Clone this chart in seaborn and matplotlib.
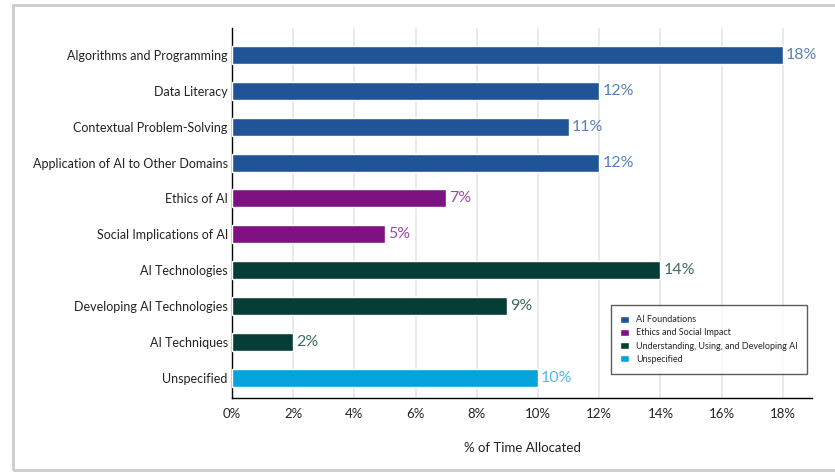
import numpy as np
import pandas as pd
import matplotlib.pyplot as plt
import seaborn as sns
from matplotlib.patches import Rectangle

topics = ['Algorithms and Programming', 'Data Literacy', 'Contextual Problem-Solving',
          'Application of AI to Other Domains', 'Ethics of AI', 'Social Implications of AI',
          'AI Technologies', 'Developing AI Technologies', 'AI Techniques', 'Unspecified']
pct = [18, 12, 11, 12, 7, 5, 14, 9, 2, 10]
groups = ['AI Foundations'] * 4 + ['Ethics and Social Impact'] * 2 + \
         ['Understanding, Using, and Developing AI'] * 3 + ['Unspecified']
group_names = ['AI Foundations', 'Ethics and Social Impact',
               'Understanding, Using, and Developing AI', 'Unspecified']
group_colors = ['#1f5597', '#7e1283', '#063d36', '#06a2dc']
label_colors = ['#5a80b8', '#9a4aa0', '#3f6a63', '#4dbbe6']

df = pd.DataFrame({'topic': topics, 'pct': pct, 'group': groups})

sns.set_style('white')
plt.rcParams['font.family'] = ['Lato', 'DejaVu Sans']

fig = plt.figure(figsize=(8.35, 4.72), dpi=100)
ax = fig.add_axes([232 / 835, 1 - 398 / 472, (812 - 232) / 835, (398 - 28) / 472])

sns.barplot(data=df, x='pct', y='topic', hue='group', hue_order=group_names,
            palette=dict(zip(group_names, group_colors)), dodge=False, saturation=1,
            width=0.5, ax=ax, zorder=3)

# value labels
cmap = dict(zip(group_names, label_colors))
for i, (v, g) in enumerate(zip(pct, groups)):
    ax.text(v + 0.1, i, f'{v}%', va='center', ha='left', fontsize=11.5, color=cmap[g])

ax.set_xlim(0, 18.95)
ax.set_ylim(9.56, -0.75)
ax.set_xticks(np.arange(0, 19, 2))
ax.set_xticklabels([f'{t}%' for t in range(0, 19, 2)], fontsize=9.5, color='#222222')
ax.tick_params(axis='y', labelsize=9, labelcolor='#222222', length=0, pad=3)
ax.tick_params(axis='x', length=0, pad=7)
ax.set_ylabel('')
ax.set_xlabel('% of Time Allocated', fontsize=9.5, color='#222222', labelpad=16)
ax.xaxis.grid(True, color='#e6e6e6', linewidth=1.2, zorder=0)
for s in ['top', 'right']:
    ax.spines[s].set_visible(False)
ax.spines['left'].set_color('black')
ax.spines['bottom'].set_color('black')
ax.spines['left'].set_linewidth(1)
ax.spines['bottom'].set_linewidth(1)

leg = ax.legend(loc='lower right', bbox_to_anchor=(1.0, 0.054), fontsize=6.5,
                frameon=True, fancybox=False, edgecolor='#333333', handlelength=0.9,
                handleheight=0.9, handletextpad=0.8, borderpad=1.1, labelspacing=0.45)
leg.get_frame().set_linewidth(1)

# light frame around the figure
fig.patches.append(Rectangle((13 / 835, 2 / 472), 1.0, 1 - 7 / 472, transform=fig.transFigure,
                             fill=False, edgecolor='#cccccc', linewidth=2))

fig.savefig('out.png', dpi=100)
